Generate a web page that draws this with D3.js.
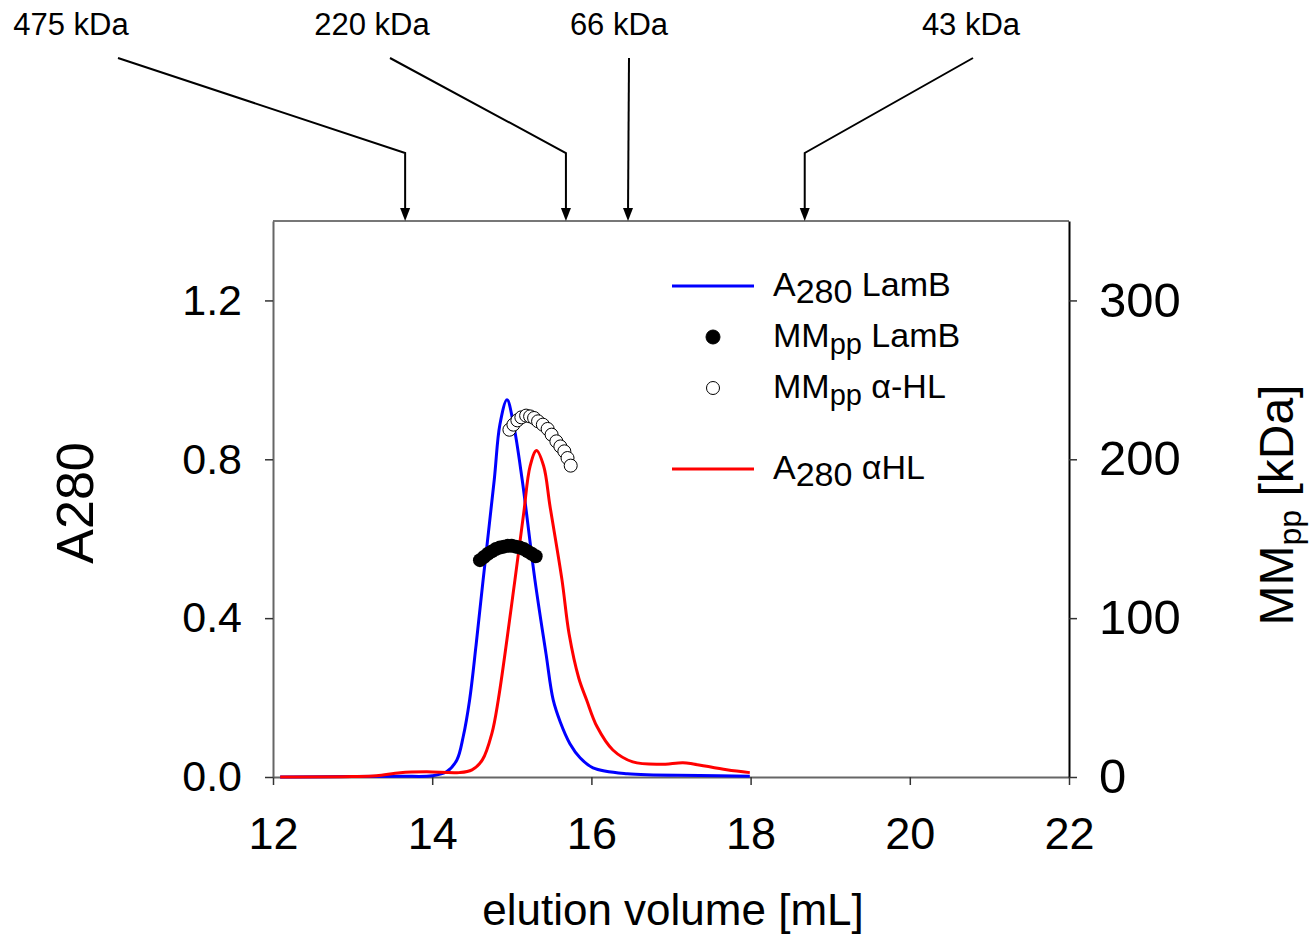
<!DOCTYPE html>
<html>
<head>
<meta charset="utf-8">
<script src="https://cdn.jsdelivr.net/npm/d3@7"></script>
<style>
  body { margin: 0; background: #fff; }
  svg { font-family: "Liberation Sans", Arial, sans-serif; }
</style>
</head>
<body>
<script>
// Tamaño general y margenes del area de datos
const WIDTH = 1312;
const HEIGHT = 935;
const MARGIN = { top: 221, bottom: 158, left: 273, right: 243 };
const WIDTHVIS = WIDTH - MARGIN.left - MARGIN.right;
const HEIGHTVIS = HEIGHT - MARGIN.top - MARGIN.bottom;

// Datos
// A280 LamB (volumen de elucion, absorbancia)
const lamBVolume = [12.09, 13.0, 13.6, 14.0, 14.18, 14.31, 14.39, 14.47, 14.55, 14.64, 14.78, 14.85, 14.94,
  15.02, 15.13, 15.29, 15.43, 15.52, 15.61, 15.73, 15.86, 16.02, 16.45, 17.36, 17.99];
const lamBA280 = [0, 0.001, 0.002, 0.003, 0.013, 0.043, 0.102, 0.194, 0.33, 0.497, 0.749, 0.887, 0.95,
  0.89, 0.749, 0.497, 0.31, 0.194, 0.138, 0.084, 0.048, 0.023, 0.008, 0.004, 0.002];

// A280 alfa-HL
const hlVolume = [12.09, 13.0, 13.3, 13.6, 13.93, 14.34, 14.5, 14.63, 14.75, 14.83, 15.04, 15.15, 15.23, 15.31,
  15.4, 15.48, 15.63, 15.72, 15.84, 15.94, 16.07, 16.27, 16.52, 16.86, 17.15, 17.28, 17.7, 17.99];
const hlA280 = [0, 0.001, 0.003, 0.011, 0.013, 0.011, 0.018, 0.043, 0.11, 0.194, 0.497, 0.665, 0.783, 0.822,
  0.783, 0.682, 0.497, 0.36, 0.25, 0.194, 0.127, 0.068, 0.038, 0.032, 0.036, 0.033, 0.018, 0.011];

// MMpp LamB (kDa)
const lamBMMVolume = [14.60, 14.65, 14.70, 14.75, 14.80, 14.85, 14.90, 14.95, 15.00, 15.05, 15.10, 15.15, 15.20, 15.25, 15.30];
const lamBMM = [136.5, 138.5, 140.5, 142, 143.5, 144.5, 145, 145.5, 145.5, 145, 144.5, 143.5, 142, 140.5, 139];

// MMpp alfa-HL (kDa)
const hlMMVolume = [14.97, 15.02, 15.07, 15.12, 15.18, 15.23, 15.28, 15.33, 15.39, 15.45, 15.50, 15.56, 15.61, 15.66, 15.70, 15.74];
const hlMM = [218.6, 221.8, 224.5, 226.4, 227.5, 227.0, 226.0, 223.9, 221.8, 219.1, 215.5, 211.3, 208.1, 205.0, 200.8, 196.0];

// Estandares de calibracion (arriba)
const standardLabels = ["475 kDa", "220 kDa", "66 kDa", "43 kDa"];
const standardVolumes = [13.66, 15.68, 16.46, 18.68];

// Ticks
const xTicks = [12, 14, 16, 18, 20, 22];
const yLeftTicks = [0, 0.4, 0.8, 1.2];
const yRightTicks = [0, 100, 200, 300];

// Posicion de las etiquetas de los estandares (pixeles)
const standardLayout = [
  { textX: 71, startX: 118, bendY: 153 },
  { textX: 372, startX: 390, bendY: 153 },
  { textX: 619, startX: 629, bendY: null },
  { textX: 971, startX: 973, bendY: 153 },
];

const svg = d3.select("body")
  .append("svg")
  .attr("width", WIDTH)
  .attr("height", HEIGHT);

const contenedor = svg.append("g")
  .attr("transform", `translate(${MARGIN.left} ${MARGIN.top})`);

// Escalas
const escalaX = d3.scaleLinear().domain([12, 22]).range([0, WIDTHVIS]);
const escalaY = d3.scaleLinear().domain([0, 1.4]).range([HEIGHTVIS, 0]);
const escalaY2 = d3.scaleLinear().domain([0, 350]).range([HEIGHTVIS, 0]);

// Marco superior
contenedor.append("line")
  .attr("x1", 0).attr("x2", WIDTHVIS)
  .attr("y1", 0).attr("y2", 0)
  .attr("stroke", "#777").attr("stroke-width", 2);

// Ejes
const ejeX = d3.axisBottom(escalaX).tickValues(xTicks).tickSize(8).tickSizeOuter(0).tickFormat(d3.format("d"));
const gX = contenedor.append("g")
  .attr("transform", `translate(0, ${HEIGHTVIS})`)
  .call(ejeX);

const ejeY = d3.axisLeft(escalaY).tickValues(yLeftTicks).tickSize(8).tickSizeOuter(0).tickFormat(d3.format(".1f"));
const gY = contenedor.append("g").call(ejeY);

const ejeY2 = d3.axisRight(escalaY2).tickValues(yRightTicks).tickSize(8).tickSizeOuter(0).tickFormat(d3.format("d"));
const gY2 = contenedor.append("g")
  .attr("transform", `translate(${WIDTHVIS}, 0)`)
  .call(ejeY2);

[gX, gY, gY2].forEach((g) => {
  g.select(".domain").attr("stroke-width", 2).attr("stroke", "#666");
  g.selectAll(".tick line").attr("stroke", "#333").attr("stroke-width", 1.5);
  g.selectAll(".tick text")
    .attr("font-family", "Liberation Sans, Arial, sans-serif")
    .attr("fill", "#000");
});
gY2.select(".domain").attr("stroke", "#000");
gX.selectAll(".tick text").attr("font-size", 45).attr("dy", "0.71em").attr("y", 40);
gY.selectAll(".tick text").attr("font-size", 43).attr("x", -31);
gY2.selectAll(".tick text").attr("font-size", 49).attr("x", 30);

// Curvas
const linea = d3.line()
  .x((d) => escalaX(d[0]))
  .y((d) => escalaY(d[1]))
  .curve(d3.curveCatmullRom.alpha(0.5));

contenedor.append("path")
  .datum(d3.zip(lamBVolume, lamBA280))
  .attr("d", linea)
  .attr("fill", "none")
  .attr("stroke", "#0000ff")
  .attr("stroke-width", 3);

contenedor.append("path")
  .datum(d3.zip(hlVolume, hlA280))
  .attr("d", linea)
  .attr("fill", "none")
  .attr("stroke", "#ff0000")
  .attr("stroke-width", 3);

// Puntos de masa molar
contenedor.selectAll("circle.lamb")
  .data(d3.zip(lamBMMVolume, lamBMM))
  .join("circle")
  .attr("class", "lamb")
  .attr("cx", (d) => escalaX(d[0]))
  .attr("cy", (d) => escalaY2(d[1]))
  .attr("r", 7)
  .attr("fill", "#000");

contenedor.selectAll("circle.hl")
  .data(d3.zip(hlMMVolume, hlMM))
  .join("circle")
  .attr("class", "hl")
  .attr("cx", (d) => escalaX(d[0]))
  .attr("cy", (d) => escalaY2(d[1]))
  .attr("r", 6.5)
  .attr("fill", "#fff")
  .attr("stroke", "#000")
  .attr("stroke-width", 1);

// Titulos de los ejes
svg.append("text")
  .attr("x", 673).attr("y", 925)
  .attr("text-anchor", "middle")
  .attr("font-size", 44)
  .text("elution volume [mL]");

svg.append("text")
  .attr("transform", "translate(93, 503) rotate(-90)")
  .attr("text-anchor", "middle")
  .attr("font-size", 52)
  .text("A280");

const tituloDer = svg.append("text")
  .attr("transform", "translate(1293, 505) rotate(-90)")
  .attr("text-anchor", "middle")
  .attr("font-size", 48);
tituloDer.append("tspan").text("MM");
tituloDer.append("tspan").attr("font-size", 32).attr("dy", 8).text("pp");
tituloDer.append("tspan").attr("dy", -8).text(" [kDa]");

// Leyenda
const leyenda = svg.append("g").attr("font-size", 34);
const filas = [
  { y: 286, tipo: "line", color: "#0000ff", base: "A", sub: "280", resto: " LamB" },
  { y: 337, tipo: "dot", base: "MM", sub: "pp", resto: " LamB" },
  { y: 388, tipo: "open", base: "MM", sub: "pp", resto: " α-HL" },
  { y: 469, tipo: "line", color: "#ff0000", base: "A", sub: "280", resto: " αHL" },
];
filas.forEach((f) => {
  if (f.tipo === "line") {
    leyenda.append("line")
      .attr("x1", 672).attr("x2", 754)
      .attr("y1", f.y).attr("y2", f.y)
      .attr("stroke", f.color).attr("stroke-width", 3);
  } else {
    leyenda.append("circle")
      .attr("cx", 713).attr("cy", f.y)
      .attr("r", f.tipo === "dot" ? 7 : 6.5)
      .attr("fill", f.tipo === "dot" ? "#000" : "#fff")
      .attr("stroke", "#000").attr("stroke-width", 1);
  }
  const t = leyenda.append("text").attr("x", 773).attr("y", f.y + 10);
  t.append("tspan").text(f.base);
  const subSize = f.sub === "pp" ? 29 : 34;
  t.append("tspan").attr("font-size", subSize).attr("dy", 7).text(f.sub);
  t.append("tspan").attr("dy", -7).text(f.resto);
});

// Flechas de los estandares
const anot = svg.append("g");
standardLabels.forEach((lab, i) => {
  const lay = standardLayout[i];
  const xEnd = MARGIN.left + escalaX(standardVolumes[i]);
  anot.append("text")
    .attr("x", lay.textX).attr("y", 35)
    .attr("text-anchor", "middle")
    .attr("font-size", 31)
    .text(lab);
  const pts = lay.bendY === null
    ? [[lay.startX, 58], [xEnd, MARGIN.top - 10]]
    : [[lay.startX, 58], [xEnd, lay.bendY], [xEnd, MARGIN.top - 10]];
  anot.append("path")
    .attr("d", d3.line()(pts))
    .attr("fill", "none")
    .attr("stroke", "#000")
    .attr("stroke-width", 2);
  anot.append("path")
    .attr("d", `M${xEnd - 5},${MARGIN.top - 13} L${xEnd + 5},${MARGIN.top - 13} L${xEnd},${MARGIN.top} Z`)
    .attr("fill", "#000");
});
</script>
</body>
</html>
